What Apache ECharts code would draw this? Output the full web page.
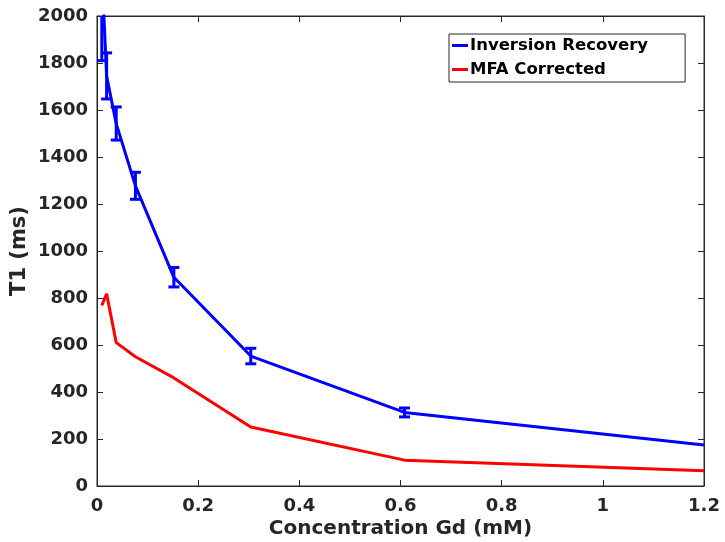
<!DOCTYPE html>
<html><head><meta charset="utf-8">
<script src="https://cdn.jsdelivr.net/npm/echarts@6/dist/echarts.min.js"></script>
<style>html,body{margin:0;padding:0;background:#fff}#c{width:725px;height:542px}</style>
</head><body><div id="c"></div>
<script>
const conc = [0.0095, 0.019, 0.038, 0.076, 0.152, 0.304, 0.608, 1.2];
const irT1 = [2200, 1745, 1542, 1277, 888, 553, 313, 174];
const irLow = [1810, 1647, 1472, 1220, 847, 520, 294, null];
const irHigh = [2590, 1843, 1613, 1335, 930, 586, 332, null];
const mfaT1 = [768, 818, 610, 550, 460, 251, 110, 65];
const xTicks = [0, 0.2, 0.4, 0.6, 0.8, 1, 1.2];
const yTicks = [0, 200, 400, 600, 800, 1000, 1200, 1400, 1600, 1800, 2000];

const BLUE = '#0000ff', RED = '#ff0000', AX = '#262626';
const FONT = 'DejaVu Sans';
const chart = echarts.init(document.getElementById('c'));

const irData = conc.map((c, i) => [c, irT1[i]]);
const mfaData = conc.map((c, i) => [c, mfaT1[i]]);
const errData = conc.map((c, i) => [c, irLow[i], irHigh[i]]).filter(d => d[1] != null);

const axisCommon = {
  axisLine: {show: true, onZero: false, lineStyle: {color: AX, width: 1}},
  axisTick: {show: true, inside: true, length: 6, lineStyle: {color: AX}},
  splitLine: {show: false}
};

chart.setOption({
  animation: false,
  grid: {left: 97, right: 21, top: 16, bottom: 56, show: true, borderColor: AX, borderWidth: 1,
    containLabel: false, outerBoundsMode: 'none'},
  xAxis: [{
    type: 'value', min: 0, max: 1.2, interval: 0.2,
    ...axisCommon,
    axisLabel: {color: AX, fontFamily: FONT, fontWeight: 'bold', fontSize: 18, margin: 11,
      formatter: v => { const t = xTicks.find(k => Math.abs(k - v) < 1e-9); return t === undefined ? '' : String(t); }},
    name: 'Concentration Gd (mM)', nameLocation: 'middle', nameGap: 33, nameMoveOverlap: false,
    nameTextStyle: {color: AX, fontFamily: FONT, fontWeight: 'bold', fontSize: 20, lineHeight: 20, verticalAlign: 'top'}
  }, {
    type: 'value', min: 0, max: 1.2, interval: 0.2, position: 'top',
    ...axisCommon, axisLabel: {show: false}
  }],
  yAxis: [{
    type: 'value', min: 0, max: 2000, interval: 200,
    ...axisCommon,
    axisLabel: {color: AX, fontFamily: FONT, fontWeight: 'bold', fontSize: 18, margin: 9,
      formatter: v => { const t = yTicks.find(k => k === v); return t === undefined ? '' : String(t); }},
    name: 'T1 (ms)', nameLocation: 'middle', nameGap: 67, nameMoveOverlap: false,
    nameTextStyle: {color: AX, fontFamily: FONT, fontWeight: 'bold', fontSize: 21, lineHeight: 20}
  }, {
    type: 'value', min: 0, max: 2000, interval: 200, position: 'right',
    ...axisCommon, axisLabel: {show: false}
  }],
  legend: {
    left: 449, top: 34, orient: 'vertical', itemGap: 7,
    itemWidth: 16, itemHeight: 3, icon: 'rect',
    padding: [3, 37, 4, 3],
    borderColor: AX, borderWidth: 1, backgroundColor: '#fff',
    textStyle: {color: '#000', fontFamily: FONT, fontWeight: 'bold', fontSize: 16.5, lineHeight: 17, padding: [0, 0, 0, -3]},
    data: ['Inversion Recovery', 'MFA Corrected']
  },
  series: [
    {name: 'Inversion Recovery', type: 'line', data: irData, symbol: 'none', clip: true,
      lineStyle: {color: BLUE, width: 3}, itemStyle: {color: BLUE}, z: 3},
    {name: 'MFA Corrected', type: 'line', data: mfaData, symbol: 'none', clip: true,
      lineStyle: {color: RED, width: 3}, itemStyle: {color: RED}, z: 3},
    {name: 'err', type: 'custom', data: errData, clip: true, z: 4,
      renderItem: function (params, api) {
        const x = api.value(0);
        const lo = api.coord([x, api.value(1)]);
        const hi = api.coord([x, api.value(2)]);
        const hw = 5.5;
        const style = {stroke: BLUE, lineWidth: 3, fill: null};
        return {type: 'group', children: [
          {type: 'line', shape: {x1: lo[0], y1: lo[1], x2: hi[0], y2: hi[1]}, style},
          {type: 'line', shape: {x1: lo[0] - hw, y1: lo[1], x2: lo[0] + hw, y2: lo[1]}, style},
          {type: 'line', shape: {x1: hi[0] - hw, y1: hi[1], x2: hi[0] + hw, y2: hi[1]}, style}
        ]};
      }}
  ]
});
</script></body></html>
